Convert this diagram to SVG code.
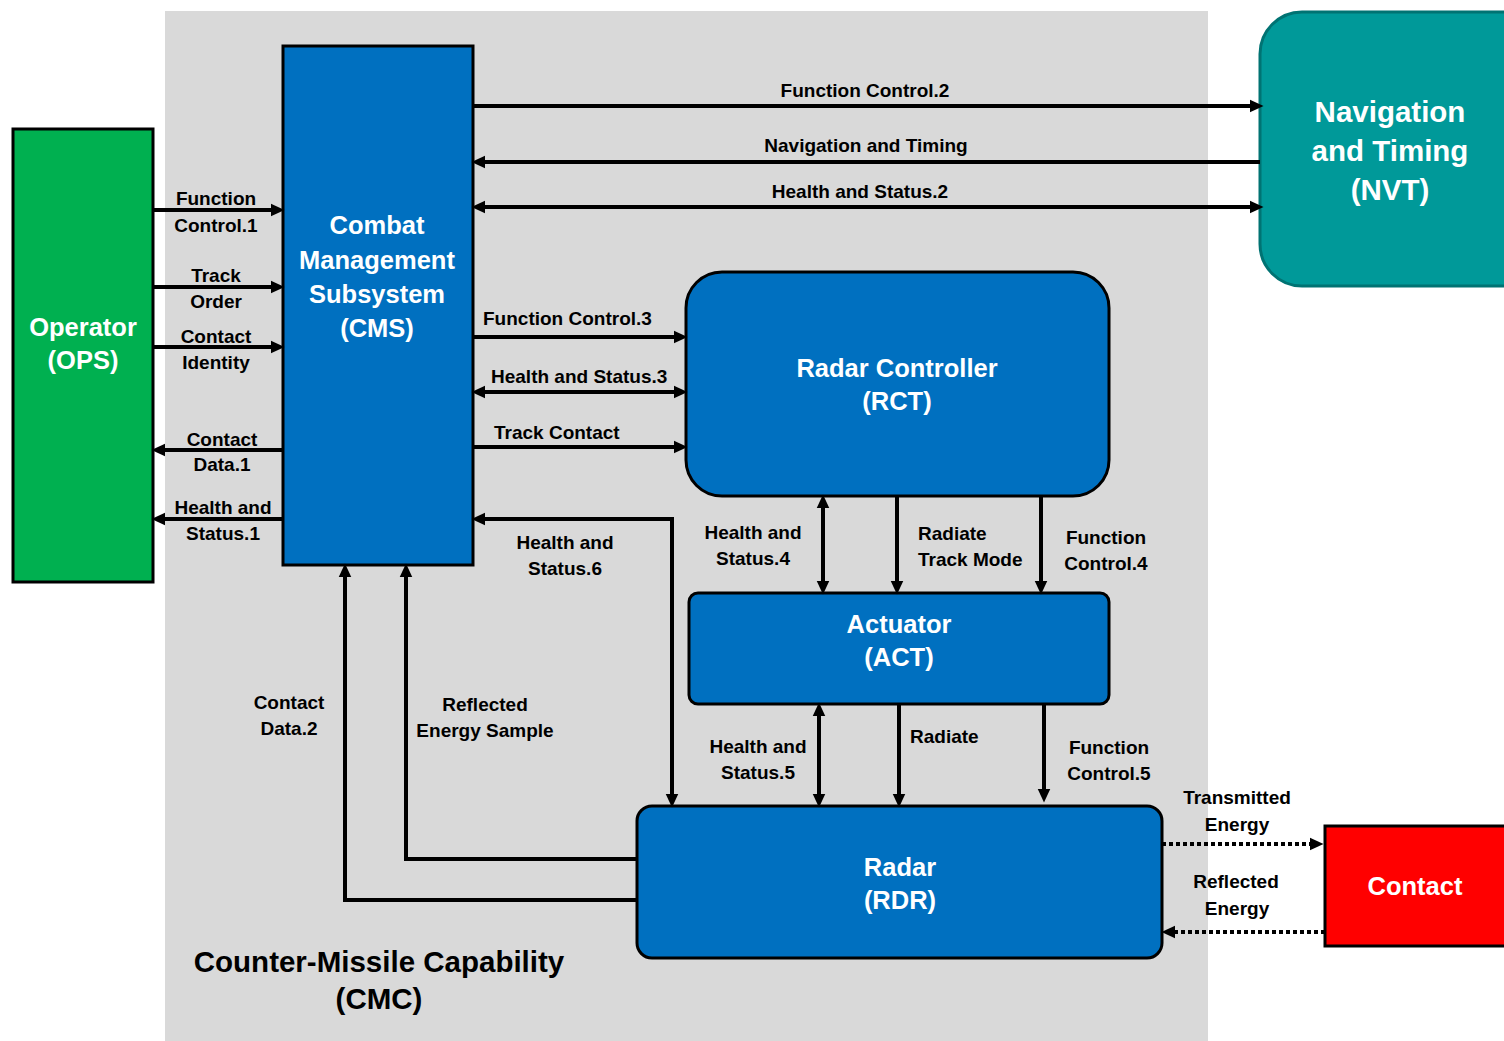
<svg xmlns="http://www.w3.org/2000/svg" width="1504" height="1041" viewBox="0 0 1504 1041">
  <style>
    .lbl { font-family: "Liberation Sans", Arial, sans-serif; font-weight: bold; font-size: 19px; fill: #000; }
    .mid { text-anchor: middle; }
    .node-txt { font-family: "Liberation Sans", Arial, sans-serif; font-weight: bold; font-size: 25.5px; fill: #fff; text-anchor: middle; }
    .big { font-size: 29.5px; }
    .box { stroke: #000; stroke-width: 3; }
    .blue { fill: #0070c0; }
    .wire { fill: none; stroke: #000; stroke-width: 4; }
    .dotted { fill: none; stroke: #000; stroke-width: 4; stroke-dasharray: 4 3; }
  </style>
  <defs>
    <marker id="arrow" markerUnits="userSpaceOnUse" markerWidth="14" markerHeight="14" viewBox="0 0 13 13" refX="6" refY="6.5" orient="auto-start-reverse">
      <path d="M0,0.5 L13,6.5 L0,12.5 z" fill="#000"/>
    </marker>
  </defs>

  <!-- system boundary -->
  <rect x="165" y="11" width="1043" height="1040" fill="#d9d9d9"/>
  <g id="cmc-title">
    <text class="lbl mid big" x="379" y="972">Counter-Missile Capability</text>
    <text class="lbl mid big" x="379" y="1009">(CMC)</text>
  </g>

  <!-- nodes -->
  <g id="ops">
    <rect class="box" x="13" y="129" width="140" height="453" fill="#00b050"/>
    <text class="node-txt" x="83" y="336">Operator</text>
    <text class="node-txt" x="83" y="369">(OPS)</text>
  </g>
  <g id="cms">
    <rect class="box blue" x="283" y="46" width="190" height="519"/>
    <text class="node-txt" x="377" y="234">Combat</text>
    <text class="node-txt" x="377" y="269">Management</text>
    <text class="node-txt" x="377" y="303">Subsystem</text>
    <text class="node-txt" x="377" y="337">(CMS)</text>
  </g>
  <g id="nvt">
    <rect x="1260" y="12" width="290" height="274" rx="42" ry="42" fill="#009999" stroke="#007373" stroke-width="3"/>
    <text class="node-txt big" x="1390" y="122">Navigation</text>
    <text class="node-txt big" x="1390" y="161">and Timing</text>
    <text class="node-txt big" x="1390" y="200">(NVT)</text>
  </g>
  <g id="rct">
    <rect class="box blue" x="686" y="272" width="423" height="224" rx="36" ry="36"/>
    <text class="node-txt" x="897" y="377">Radar Controller</text>
    <text class="node-txt" x="897" y="410">(RCT)</text>
  </g>
  <g id="act">
    <rect class="box blue" x="689" y="593" width="420" height="111" rx="9" ry="9"/>
    <text class="node-txt" x="899" y="633">Actuator</text>
    <text class="node-txt" x="899" y="666">(ACT)</text>
  </g>
  <g id="rdr">
    <rect class="box blue" x="637" y="806" width="525" height="152" rx="15" ry="15"/>
    <text class="node-txt" x="900" y="876">Radar</text>
    <text class="node-txt" x="900" y="909">(RDR)</text>
  </g>
  <g id="contact">
    <rect class="box" x="1325" y="826" width="200" height="120" fill="#ff0000"/>
    <text class="node-txt" x="1415" y="895">Contact</text>
  </g>

  <!-- connectors -->
  <g id="connectors">
    <!-- OPS <-> CMS -->
    <path class="wire" d="M153,210 H277" marker-end="url(#arrow)"/>
    <path class="wire" d="M153,287 H277" marker-end="url(#arrow)"/>
    <path class="wire" d="M153,347 H277" marker-end="url(#arrow)"/>
    <path class="wire" d="M283,450 H159" marker-end="url(#arrow)"/>
    <path class="wire" d="M283,519 H159" marker-end="url(#arrow)"/>

    <!-- CMS <-> NVT -->
    <path class="wire" d="M473,106 H1256" marker-end="url(#arrow)"/>
    <path class="wire" d="M1260,162 H479" marker-end="url(#arrow)"/>
    <path class="wire" d="M479,207 H1256" marker-start="url(#arrow)" marker-end="url(#arrow)"/>

    <!-- CMS <-> RCT -->
    <path class="wire" d="M473,337 H680" marker-end="url(#arrow)"/>
    <path class="wire" d="M479,392 H680" marker-start="url(#arrow)" marker-end="url(#arrow)"/>
    <path class="wire" d="M473,447 H680" marker-end="url(#arrow)"/>

    <!-- CMS <-> RDR -->
    <path class="wire" d="M479,519 H672 V800" marker-start="url(#arrow)" marker-end="url(#arrow)"/>
    <path class="wire" d="M637,859 H406 V571" marker-end="url(#arrow)"/>
    <path class="wire" d="M637,900 H345 V571" marker-end="url(#arrow)"/>

    <!-- RCT <-> ACT -->
    <path class="wire" d="M823,502 V587" marker-start="url(#arrow)" marker-end="url(#arrow)"/>
    <path class="wire" d="M897,496 V587" marker-end="url(#arrow)"/>
    <path class="wire" d="M1041,496 V587" marker-end="url(#arrow)"/>

    <!-- ACT <-> RDR -->
    <path class="wire" d="M819,710 V800" marker-start="url(#arrow)" marker-end="url(#arrow)"/>
    <path class="wire" d="M899,704 V800" marker-end="url(#arrow)"/>
    <path class="wire" d="M1044,704 V795" marker-end="url(#arrow)"/>

    <!-- RDR <-> Contact -->
    <path class="dotted" d="M1162,844 H1316" marker-end="url(#arrow)"/>
    <path class="dotted" d="M1325,932 H1169" marker-end="url(#arrow)"/>
  </g>

  <!-- connector labels -->
  <g id="labels">
    <text class="lbl mid" x="216" y="205">Function</text>
    <text class="lbl mid" x="216" y="232">Control.1</text>
    <text class="lbl mid" x="216" y="282">Track</text>
    <text class="lbl mid" x="216" y="308">Order</text>
    <text class="lbl mid" x="216" y="343">Contact</text>
    <text class="lbl mid" x="216" y="369">Identity</text>
    <text class="lbl mid" x="222" y="446">Contact</text>
    <text class="lbl mid" x="222" y="471">Data.1</text>
    <text class="lbl mid" x="223" y="514">Health and</text>
    <text class="lbl mid" x="223" y="540">Status.1</text>

    <text class="lbl mid" x="865" y="97">Function Control.2</text>
    <text class="lbl mid" x="866" y="152">Navigation and Timing</text>
    <text class="lbl mid" x="860" y="198">Health and Status.2</text>

    <text class="lbl" x="483" y="325">Function Control.3</text>
    <text class="lbl" x="491" y="383">Health and Status.3</text>
    <text class="lbl" x="494" y="439">Track Contact</text>

    <text class="lbl mid" x="565" y="549">Health and</text>
    <text class="lbl mid" x="565" y="575">Status.6</text>

    <text class="lbl mid" x="753" y="539">Health and</text>
    <text class="lbl mid" x="753" y="565">Status.4</text>
    <text class="lbl" x="918" y="540">Radiate</text>
    <text class="lbl" x="918" y="566">Track Mode</text>
    <text class="lbl mid" x="1106" y="544">Function</text>
    <text class="lbl mid" x="1106" y="570">Control.4</text>

    <text class="lbl mid" x="758" y="753">Health and</text>
    <text class="lbl mid" x="758" y="779">Status.5</text>
    <text class="lbl" x="910" y="743">Radiate</text>
    <text class="lbl mid" x="1109" y="754">Function</text>
    <text class="lbl mid" x="1109" y="780">Control.5</text>

    <text class="lbl mid" x="485" y="711">Reflected</text>
    <text class="lbl mid" x="485" y="737">Energy Sample</text>
    <text class="lbl mid" x="289" y="709">Contact</text>
    <text class="lbl mid" x="289" y="735">Data.2</text>

    <text class="lbl mid" x="1237" y="804">Transmitted</text>
    <text class="lbl mid" x="1237" y="831">Energy</text>
    <text class="lbl mid" x="1236" y="888">Reflected</text>
    <text class="lbl mid" x="1237" y="915">Energy</text>
  </g>
</svg>
